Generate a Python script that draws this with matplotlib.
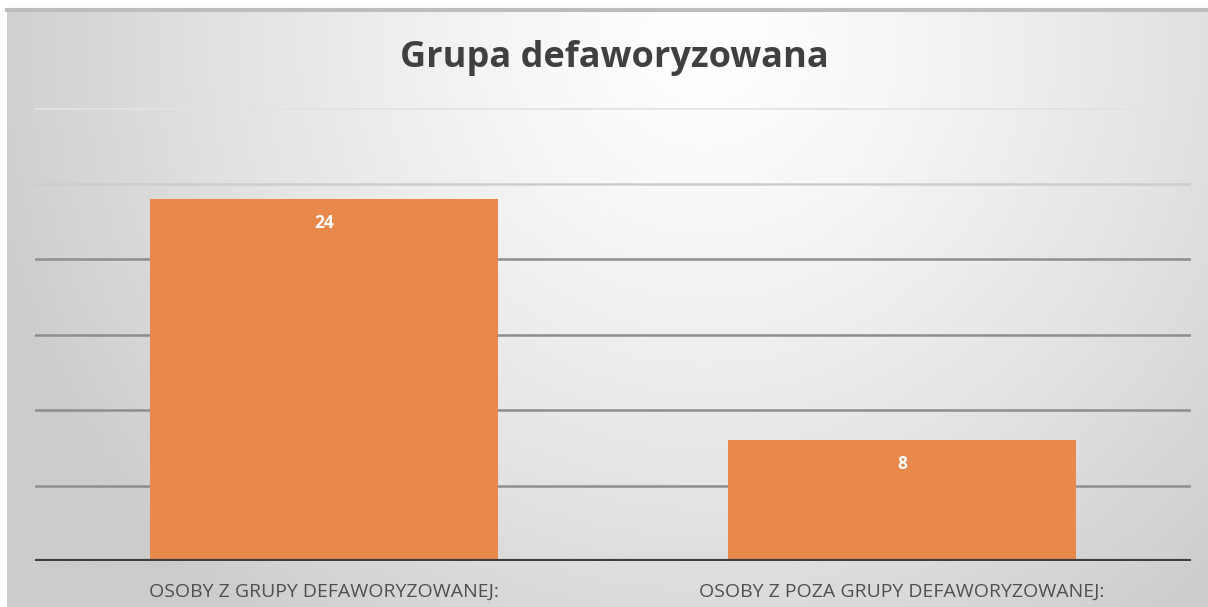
import numpy as np
import matplotlib
matplotlib.use("Agg")
import matplotlib.pyplot as plt

title = "Grupa defaworyzowana"
categories = ["OSOBY Z GRUPY DEFAWORYZOWANEJ:", "OSOBY Z POZA GRUPY DEFAWORYZOWANEJ:"]
values = [24, 8]

W, H = 1208, 607
fig = plt.figure(figsize=(W / 100, H / 100), dpi=100)
fig.patch.set_facecolor("white")

# background panel with radial gradient
bg = fig.add_axes([7 / W, 0, 1 - 7 / W, 1 - 10 / H])
bg.set_axis_off()
ny, nx = 300, 600
yy, xx = np.mgrid[0:ny, 0:nx]
cx, cy = nx * 0.58, ny * 0.05
d = np.sqrt(((xx - cx) / (nx * 0.62)) ** 2 + ((yy - cy) / (ny * 1.25)) ** 2)
d = np.clip(d, 0, 1)
lo, hi = 0.80, 1.0
g = hi - (hi - lo) * d ** 1.3
img = np.dstack([g, g, g])
bg.imshow(img, aspect="auto", extent=[0, 1, 0, 1], origin="upper")
bg.plot([0, 1], [1, 1], color="#bdbdbd", lw=3, transform=bg.transAxes, clip_on=False)

ax = fig.add_axes([35 / W, (H - 561) / H, (1191 - 35) / W, (561 - 108) / H])
ax.patch.set_alpha(0)
x = np.arange(len(categories))
ax.set_xlim(-0.5, len(categories) - 0.5)
ax.set_ylim(0, 30)
for t in np.arange(5, 31, 5):
    col = "#e2e2e2" if t >= 30 else ("#cdcdcd" if t >= 25 else "#8e8e8e")
    ax.axhline(t, color=col, lw=1.8, zorder=1)
bars = ax.bar(x, values, width=0.603, color="#E8894B", zorder=2)
ax.axhline(0, color="#3f3f3f", lw=3, zorder=3)
for b, v in zip(bars, values):
    ax.annotate(str(v), (b.get_x() + b.get_width() / 2, v), xytext=(0, -29),
                textcoords="offset pixels",
                ha="center", va="baseline", color="white", fontsize=12.5,
                fontweight="bold", family="Open Sans", zorder=4)
for s in ax.spines.values():
    s.set_visible(False)
ax.set_yticks([])
ax.set_xticks(x)
ax.set_xticklabels(categories, fontsize=14, color="#505050", family="Open Sans")
ax.tick_params(axis="x", length=0, pad=16)

fig.text(614 / W, 1 - 67 / H, title, ha="center", va="baseline", fontsize=26,
         fontweight="bold", color="#404040", family="Open Sans")

fig.savefig("out.png", dpi=100)
